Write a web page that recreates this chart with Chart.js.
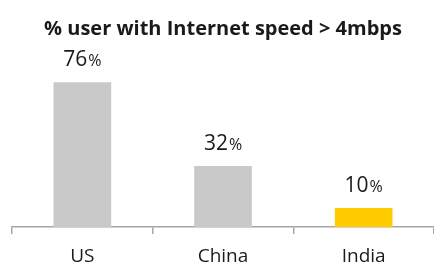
<!DOCTYPE html>
<html>
<head>
	<meta charset="utf-8"/>
	<script src="https://cdn.jsdelivr.net/npm/chart.js@4/dist/chart.umd.min.js"></script>
	<style>
		body { margin: 0; background: #fff; }
		#wrap { width: 434px; height: 275px; }
	</style>
</head>
<body>
	<div id="wrap"><canvas id="chart" width="434" height="275"></canvas></div>
	<script>
		var paises = ["US", "China", "India"];
		var usuarios = [76, 32, 10];
		var colores = ["#c9c9c9", "#c9c9c9", "#ffcc00"];

		// etiquetas de valor encima de cada barra, el % mas chico
		var etiquetas = {
			id: "etiquetas",
			afterDatasetsDraw: function(chart) {
				var ctx = chart.ctx;
				var meta = chart.getDatasetMeta(0);
				ctx.save();
				ctx.fillStyle = "#1a1a1a";
				ctx.textBaseline = "alphabetic";
				meta.data.forEach(function(bar, i) {
					var num = String(usuarios[i]);
					ctx.font = "21px 'Open Sans'";
					var w1 = ctx.measureText(num).width;
					ctx.font = "16px 'Open Sans'";
					var w2 = ctx.measureText("%").width;
					var x = bar.x - (w1 + w2 + 1) / 2;
					var y = bar.y - 16;
					ctx.font = "21px 'Open Sans'";
					ctx.textAlign = "left";
					ctx.fillText(num, x, y);
					ctx.font = "16px 'Open Sans'";
					ctx.fillText("%", x + w1 + 1, y);
				});
				ctx.restore();
			}
		};

		var canvas = document.getElementById("chart").getContext("2d");
		window.bar = new Chart(canvas, {
			type: "bar",
			data: {
				labels: paises,
				datasets: [{
					data: usuarios,
					backgroundColor: colores,
					barPercentage: 0.41,
					categoryPercentage: 1
				}]
			},
			options: {
				responsive: false,
				animation: false,
				layout: { padding: { left: 12, right: 0, top: 0, bottom: -4 } },
				plugins: {
					legend: { display: false },
					tooltip: { enabled: false },
					title: {
						display: true,
						text: "% user with Internet speed > 4mbps",
						color: "#1a1a1a",
						font: { family: "Open Sans", size: 20, weight: "bold" },
						padding: { top: 17, bottom: 9 }
					}
				},
				scales: {
					y: { display: false, min: 0, max: 93 },
					x: {
						grid: {
							display: true,
							offset: true,
							drawOnChartArea: false,
							drawTicks: true,
							tickLength: 7,
							color: "#a6a6a6",
							lineWidth: 1.5
						},
						border: { display: true, color: "#a6a6a6", width: 1.5 },
						ticks: {
							color: "#1a1a1a",
							font: { family: "Open Sans", size: 19, lineHeight: 1 },
							padding: 13
						}
					}
				}
			},
			plugins: [etiquetas]
		});
	</script>
</body>
</html>
